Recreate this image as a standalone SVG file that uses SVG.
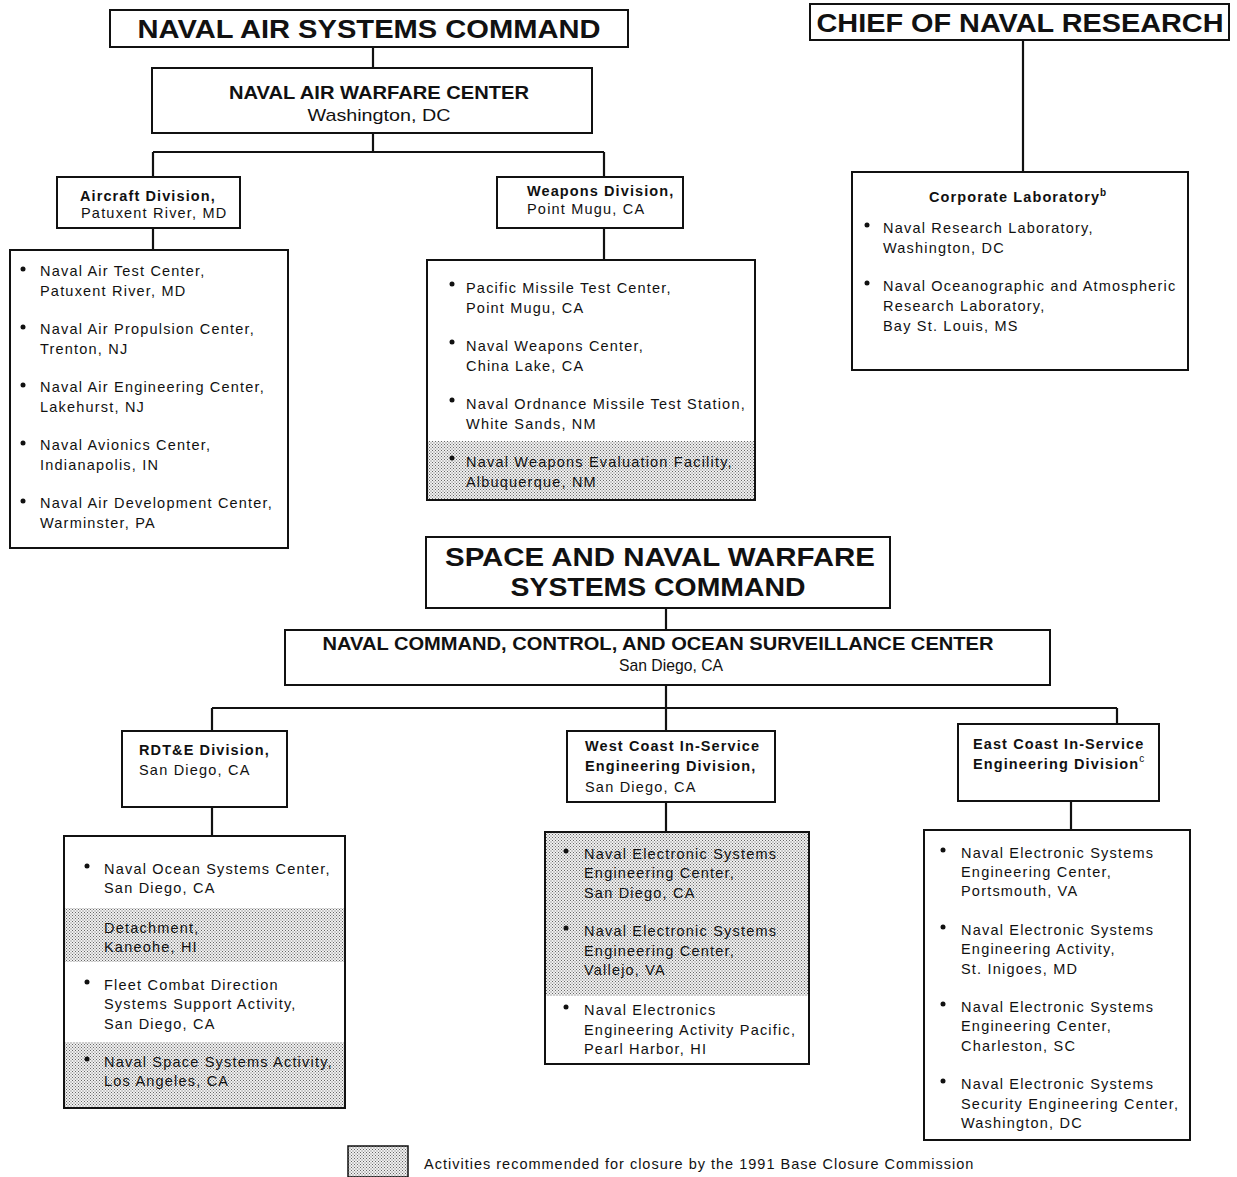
<svg xmlns="http://www.w3.org/2000/svg" width="1237" height="1177" viewBox="0 0 1237 1177">
<defs>
<pattern id="dots" width="3" height="3" patternUnits="userSpaceOnUse">
<rect width="3" height="3" fill="#f0f0f0"/>
<rect x="0" y="0" width="1" height="1" fill="#666"/>
<rect x="1.5" y="1.5" width="1" height="1" fill="#666"/>
</pattern>
</defs>
<style>
.box{fill:#fff;stroke:#111;stroke-width:2}
.shade{fill:url(#dots);stroke:none}
.ln{fill:none;stroke:#111;stroke-width:2.2}
text{font-family:"Liberation Sans",Arial,sans-serif;fill:#111}
.t1{font-size:26px;font-weight:bold}
.t2{font-size:19px;font-weight:bold}
.t3{font-size:17px}
.hb{font-size:14.5px;font-weight:bold;letter-spacing:1.1px}
.it{font-size:14.5px;letter-spacing:1.2px}
.lg{font-size:14.5px;letter-spacing:1px}
.sup{font-size:10px;letter-spacing:0}
.ctr{text-anchor:middle}
</style>
<rect width="1237" height="1177" fill="#fff"/>

<g id="connectors">
<path class="ln" d="M373 47V68"/>
<path class="ln" d="M373 133V152M153 152H604M153 152V177M604 152V177"/>
<path class="ln" d="M153 228V250"/>
<path class="ln" d="M604 228V260"/>
<path class="ln" d="M1023 40V172"/>
<path class="ln" d="M666 608V630"/>
<path class="ln" d="M666 685V708M212 708H1117M212 708V731M666 708V731M1117 708V724"/>
<path class="ln" d="M212 807V836"/>
<path class="ln" d="M666 802V832"/>
<path class="ln" d="M1071 801V830"/>
</g>

<g id="navair">
<rect class="box" x="110" y="10" width="518" height="37"/>
<text class="t1 ctr" x="369" y="38" textLength="463" lengthAdjust="spacingAndGlyphs">NAVAL AIR SYSTEMS COMMAND</text>
</g>

<g id="nawc">
<rect class="box" x="152" y="68" width="440" height="65"/>
<text class="t2 ctr" x="379" y="99" textLength="300" lengthAdjust="spacingAndGlyphs">NAVAL AIR WARFARE CENTER</text>
<text class="t3 ctr" x="379" y="121" textLength="143" lengthAdjust="spacingAndGlyphs">Washington, DC</text>
</g>

<g id="aircraft-division">
<rect class="box" x="57" y="177" width="183" height="51"/>
<text class="hb" x="80" y="201">Aircraft Division,</text>
<text class="it" x="81" y="218">Patuxent River, MD</text>
</g>

<g id="aircraft-list">
<rect class="box" x="10" y="250" width="278" height="298"/>
<circle cx="23" cy="269" r="2.5" fill="#111"/>
<text class="it" x="40" y="276">Naval Air Test Center,</text>
<text class="it" x="40" y="296">Patuxent River, MD</text>
<circle cx="23" cy="327" r="2.5" fill="#111"/>
<text class="it" x="40" y="334">Naval Air Propulsion Center,</text>
<text class="it" x="40" y="354">Trenton, NJ</text>
<circle cx="23" cy="385" r="2.5" fill="#111"/>
<text class="it" x="40" y="392">Naval Air Engineering Center,</text>
<text class="it" x="40" y="412">Lakehurst, NJ</text>
<circle cx="23" cy="443" r="2.5" fill="#111"/>
<text class="it" x="40" y="450">Naval Avionics Center,</text>
<text class="it" x="40" y="470">Indianapolis, IN</text>
<circle cx="23" cy="501" r="2.5" fill="#111"/>
<text class="it" x="40" y="508">Naval Air Development Center,</text>
<text class="it" x="40" y="528">Warminster, PA</text>
</g>

<g id="weapons-division">
<rect class="box" x="497" y="177" width="186" height="51"/>
<text class="hb" x="527" y="196">Weapons Division,</text>
<text class="it" x="527" y="214">Point Mugu, CA</text>
</g>

<g id="weapons-list">
<rect class="box" x="427" y="260" width="328" height="240"/>
<rect class="shade" x="428" y="441" width="326" height="58"/>
<circle cx="452" cy="284" r="2.5" fill="#111"/>
<text class="it" x="466" y="293">Pacific Missile Test Center,</text>
<text class="it" x="466" y="313">Point Mugu, CA</text>
<circle cx="452" cy="342" r="2.5" fill="#111"/>
<text class="it" x="466" y="351">Naval Weapons Center,</text>
<text class="it" x="466" y="371">China Lake, CA</text>
<circle cx="452" cy="400" r="2.5" fill="#111"/>
<text class="it" x="466" y="409">Naval Ordnance Missile Test Station,</text>
<text class="it" x="466" y="429">White Sands, NM</text>
<circle cx="452" cy="458" r="2.5" fill="#111"/>
<text class="it" x="466" y="467">Naval Weapons Evaluation Facility,</text>
<text class="it" x="466" y="487">Albuquerque, NM</text>
</g>

<g id="cnr">
<rect class="box" x="810" y="4" width="419" height="36"/>
<text class="t1 ctr" x="1020" y="32" textLength="407" lengthAdjust="spacingAndGlyphs">CHIEF OF NAVAL RESEARCH</text>
</g>

<g id="corporate-lab">
<rect class="box" x="852" y="172" width="336" height="198"/>
<text class="hb" x="929" y="202">Corporate Laboratory<tspan class="sup" dy="-6">b</tspan></text>
<circle cx="867" cy="225" r="2.5" fill="#111"/>
<text class="it" x="883" y="233">Naval Research Laboratory,</text>
<text class="it" x="883" y="253">Washington, DC</text>
<circle cx="867" cy="283" r="2.5" fill="#111"/>
<text class="it" x="883" y="291">Naval Oceanographic and Atmospheric</text>
<text class="it" x="883" y="311">Research Laboratory,</text>
<text class="it" x="883" y="331">Bay St. Louis, MS</text>
</g>

<g id="spawar">
<rect class="box" x="426" y="537" width="464" height="71"/>
<text class="t1 ctr" x="660" y="566" textLength="430" lengthAdjust="spacingAndGlyphs">SPACE AND NAVAL WARFARE</text>
<text class="t1 ctr" x="658" y="596" textLength="295" lengthAdjust="spacingAndGlyphs">SYSTEMS COMMAND</text>
</g>

<g id="nccosc">
<rect class="box" x="285" y="630" width="765" height="55"/>
<text class="t2 ctr" x="658" y="650" textLength="671" lengthAdjust="spacingAndGlyphs">NAVAL COMMAND, CONTROL, AND OCEAN SURVEILLANCE CENTER</text>
<text class="t3 ctr" x="671" y="671" textLength="104" lengthAdjust="spacingAndGlyphs">San Diego, CA</text>
</g>

<g id="rdte-division">
<rect class="box" x="122" y="731" width="165" height="76"/>
<text class="hb" x="139" y="755">RDT&amp;E Division,</text>
<text class="it" x="139" y="775">San Diego, CA</text>
</g>

<g id="rdte-list">
<rect class="box" x="64" y="836" width="281" height="272"/>
<rect class="shade" x="65" y="908" width="279" height="54"/>
<rect class="shade" x="65" y="1042" width="279" height="65"/>
<circle cx="87" cy="866" r="2.5" fill="#111"/>
<text class="it" x="104" y="874">Naval Ocean Systems Center,</text>
<text class="it" x="104" y="893">San Diego, CA</text>
<text class="it" x="104" y="933">Detachment,</text>
<text class="it" x="104" y="952">Kaneohe, HI</text>
<circle cx="87" cy="982" r="2.5" fill="#111"/>
<text class="it" x="104" y="990">Fleet Combat Direction</text>
<text class="it" x="104" y="1009">Systems Support Activity,</text>
<text class="it" x="104" y="1029">San Diego, CA</text>
<circle cx="87" cy="1059" r="2.5" fill="#111"/>
<text class="it" x="104" y="1067">Naval Space Systems Activity,</text>
<text class="it" x="104" y="1086">Los Angeles, CA</text>
</g>

<g id="west-coast-division">
<rect class="box" x="567" y="731" width="208" height="71"/>
<text class="hb" x="585" y="751">West Coast In-Service</text>
<text class="hb" x="585" y="771">Engineering Division,</text>
<text class="it" x="585" y="792">San Diego, CA</text>
</g>

<g id="west-coast-list">
<rect class="box" x="545" y="832" width="264" height="232"/>
<rect class="shade" x="546" y="833" width="262" height="163"/>
<circle cx="566" cy="851" r="2.5" fill="#111"/>
<text class="it" x="584" y="859">Naval Electronic Systems</text>
<text class="it" x="584" y="878">Engineering Center,</text>
<text class="it" x="584" y="898">San Diego, CA</text>
<circle cx="566" cy="928" r="2.5" fill="#111"/>
<text class="it" x="584" y="936">Naval Electronic Systems</text>
<text class="it" x="584" y="956">Engineering Center,</text>
<text class="it" x="584" y="975">Vallejo, VA</text>
<circle cx="566" cy="1007" r="2.5" fill="#111"/>
<text class="it" x="584" y="1015">Naval Electronics</text>
<text class="it" x="584" y="1035">Engineering Activity Pacific,</text>
<text class="it" x="584" y="1054">Pearl Harbor, HI</text>
</g>

<g id="east-coast-division">
<rect class="box" x="958" y="724" width="201" height="77"/>
<text class="hb" x="973" y="749">East Coast In-Service</text>
<text class="hb" x="973" y="769">Engineering Division<tspan class="sup" dy="-7" font-weight="normal">c</tspan></text>
</g>

<g id="east-coast-list">
<rect class="box" x="924" y="830" width="266" height="310"/>
<circle cx="943" cy="850" r="2.5" fill="#111"/>
<text class="it" x="961" y="858">Naval Electronic Systems</text>
<text class="it" x="961" y="877">Engineering Center,</text>
<text class="it" x="961" y="896">Portsmouth, VA</text>
<circle cx="943" cy="927" r="2.5" fill="#111"/>
<text class="it" x="961" y="935">Naval Electronic Systems</text>
<text class="it" x="961" y="954">Engineering Activity,</text>
<text class="it" x="961" y="974">St. Inigoes, MD</text>
<circle cx="943" cy="1004" r="2.5" fill="#111"/>
<text class="it" x="961" y="1012">Naval Electronic Systems</text>
<text class="it" x="961" y="1031">Engineering Center,</text>
<text class="it" x="961" y="1051">Charleston, SC</text>
<circle cx="943" cy="1081" r="2.5" fill="#111"/>
<text class="it" x="961" y="1089">Naval Electronic Systems</text>
<text class="it" x="961" y="1109">Security Engineering Center,</text>
<text class="it" x="961" y="1128">Washington, DC</text>
</g>

<g id="legend">
<rect x="348" y="1146" width="60" height="31" fill="url(#dots)" stroke="#111" stroke-width="1.5"/>
<text class="lg" x="424" y="1169">Activities recommended for closure by the 1991 Base Closure Commission</text>
</g>
</svg>
